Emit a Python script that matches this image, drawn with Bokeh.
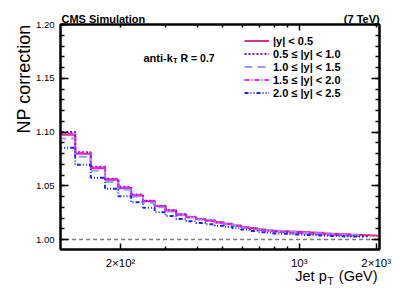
from bokeh.plotting import figure
from bokeh.models import (Label, Legend, LegendItem, LinearAxis, LogAxis, FixedTicker,
                          SingleIntervalTicker, PrintfTickFormatter, Range1d,
                          CustomJSTickFormatter, Title)
from bokeh.embed import file_html
from bokeh.resources import INLINE

# ---------------- data ----------------
pt_edges = [114, 133, 153, 174, 196, 220, 245, 272, 300, 330, 362, 395, 430, 468, 507,
            548, 592, 638, 686, 737, 790, 846, 905, 967, 1032, 1101, 1172, 1248, 1327,
            1410, 1497, 1588, 1684, 1784, 1890, 2000, 2116]

np_y00_05 = [1.0975, 1.0797, 1.0664, 1.0555, 1.0478, 1.0410, 1.0355, 1.0311, 1.0270, 1.0233,
             1.0210, 1.0191, 1.0176, 1.0160, 1.0146, 1.0131, 1.0116, 1.0106, 1.0094, 1.0086,
             1.0081, 1.0078, 1.0075, 1.0073, 1.0070, 1.0066, 1.0062, 1.0057, 1.0054, 1.0051,
             1.0048, 1.0044, 1.0041, 1.0039, 1.0037, 1.0036]
np_y05_10 = [1.1000, 1.0813, 1.0677, 1.0565, 1.0490, 1.0418, 1.0360, 1.0315, 1.0272, 1.0235,
             1.0212, 1.0192, 1.0176, 1.0159, 1.0144, 1.0129, 1.0113, 1.0102, 1.0090, 1.0081,
             1.0075, 1.0070, 1.0066, 1.0062, 1.0058, 1.0054, 1.0050, 1.0047, 1.0044, 1.0041,
             1.0038, 1.0035, 1.0032, 1.0030]
np_y10_15 = [1.0940, 1.0770, 1.0640, 1.0535, 1.0462, 1.0397, 1.0343, 1.0300, 1.0260, 1.0226,
             1.0204, 1.0186, 1.0171, 1.0156, 1.0142, 1.0128, 1.0114, 1.0104, 1.0093, 1.0085,
             1.0079, 1.0074, 1.0070, 1.0066, 1.0062, 1.0058, 1.0055, 1.0052, 1.0049, 1.0046,
             1.0043, 1.0041, 1.0039]
np_y15_20 = [1.0985, 1.0808, 1.0672, 1.0560, 1.0484, 1.0413, 1.0356, 1.0311, 1.0268, 1.0231,
             1.0208, 1.0188, 1.0172, 1.0156, 1.0141, 1.0126, 1.0111, 1.0100, 1.0088, 1.0079,
             1.0073, 1.0068, 1.0064, 1.0060, 1.0056, 1.0052, 1.0049, 1.0046, 1.0043, 1.0040,
             1.0037, 1.0034]
np_y20_25 = [1.0855, 1.0695, 1.0575, 1.0472, 1.0402, 1.0347, 1.0295, 1.0254, 1.0218, 1.0190,
             1.0170, 1.0154, 1.0141, 1.0128, 1.0117, 1.0104, 1.0092, 1.0080, 1.0068, 1.0062,
             1.0057, 1.0053, 1.0049, 1.0046, 1.0043, 1.0040, 1.0037, 1.0035, 1.0033, 1.0031,
             1.0029, 1.0027, 1.0026]

legend_labels = ["|y| < 0.5", "0.5 \u2264 |y| < 1.0", "1.0 \u2264 |y| < 1.5",
                 "1.5 \u2264 |y| < 2.0", "2.0 \u2264 |y| < 2.5"]
x_ticks = [200, 1000, 2000]
x_tick_labels = ["2\u00d710\u00b2", "10\u00b3", "2\u00d710\u00b3"]
x_minor = [300, 400, 500, 600, 700, 800, 900]
ref_x = [114, 2000]
ref_y = [1.0, 1.0]

FONT = "Liberation Sans"
NB = "\u00a0"

# ---------------- figure ----------------
p = figure(width=399, height=294, x_axis_type="log",
           x_range=Range1d(116.5, 2060), y_range=Range1d(0.9907, 1.2001),
           output_backend="svg", toolbar_location=None,
           min_border_left=60, min_border_right=20, min_border_top=24, min_border_bottom=45)
p.grid.visible = False
p.outline_line_color = "black"
p.outline_line_width = 2

# top title line
p.title.text = "CMS Simulation" + NB * 65 + "(7 TeV)"
p.title.align = "left"
p.title.offset = 1
p.title.standoff = 0
p.title.text_font = FONT
p.title.text_font_size = "11px"
p.title.text_font_style = "bold"
p.title.text_color = "black"

# reference line
p.line(ref_x, ref_y, line_color="#7a7a7a", line_width=1.5, line_dash="4 3")

styles = [
    (np_y00_05, "#d4318c", "solid"),
    (np_y05_10, "#7a10e0", "2 2"),
    (np_y10_15, "#9a9cff", "8 5"),
    (np_y15_20, "#e028ef", "5 2 1 2"),
    (np_y20_25, "#1426ff", "4 2 1 2 1 2"),
]
items = []
for lab_text, (vals, col, dash) in zip(legend_labels, styles):
    n = len(vals)
    xs = pt_edges[:n + 1]
    ys = list(vals) + [vals[-1]]
    r = p.step(xs, ys, mode="after", line_color=col, line_width=2, line_dash=dash)
    items.append(LegendItem(label=lab_text, renderers=[r]))

# axes
xa = p.xaxis[0]
xa.ticker = FixedTicker(ticks=x_ticks, minor_ticks=x_minor)
xa.major_label_overrides = {t: s for t, s in zip(x_ticks, x_tick_labels)}
ya = p.yaxis[0]
ya.ticker = SingleIntervalTicker(interval=0.05, num_minor_ticks=5)
ya.formatter = PrintfTickFormatter(format="%.2f")

blank = CustomJSTickFormatter(code="return ''")
top = LogAxis(ticker=FixedTicker(ticks=[1000], minor_ticks=[200] + x_minor + [2000]),
              formatter=blank)
right = LinearAxis(ticker=SingleIntervalTicker(interval=0.05, num_minor_ticks=5),
                   formatter=blank)
p.add_layout(top, "above")
p.add_layout(right, "right")

for ax in (xa, top):
    ax.major_tick_in = 6
    ax.major_tick_out = 0
    ax.minor_tick_in = 3
    ax.minor_tick_out = 0
for ax in (ya, right):
    ax.major_tick_in = 8
    ax.major_tick_out = 0
    ax.minor_tick_in = 4
    ax.minor_tick_out = 0
for ax in (xa, ya, top, right):
    ax.axis_line_width = 2
    ax.axis_line_color = "black"
    ax.major_tick_line_width = 1.5
    ax.minor_tick_line_width = 1.5
    ax.major_label_text_font = FONT
    ax.major_label_text_color = "black"
xa.major_label_text_font_size = "11.5px"
xa.major_label_standoff = 7
ya.major_label_text_font_size = "9.5px"
ya.major_label_standoff = 6
for ax in (top, right):
    ax.major_label_standoff = 0

# axis titles outside the frame
ytitle = Title(text="NP correction", align="right", text_font=FONT, text_font_size="18px",
               text_font_style="normal", text_color="black", standoff=0)
p.add_layout(ytitle, "left")
xtitle = Title(text="Jet p" + NB * 3 + "(GeV)", align="right", text_font=FONT,
               text_font_size="14.5px", text_font_style="normal", text_color="black",
               standoff=-12, offset=2)
p.add_layout(xtitle, "below")
xsub = Title(text="T", align="right", text_font=FONT, text_font_size="10px",
             text_font_style="normal", text_color="black", standoff=-8, offset=46)
p.add_layout(xsub, "below")

# legend
leg = Legend(items=items, location=(184, 150.3), orientation="vertical",
             label_text_font=FONT, label_text_font_size="11px", label_text_font_style="bold",
             label_text_color="black", glyph_width=25, glyph_height=11, label_height=11,
             label_standoff=4, spacing=1, padding=0, margin=0,
             background_fill_alpha=0, border_line_color=None)
p.add_layout(leg, "center")


def lab(text, x, y, size, style="bold", align="left"):
    p.add_layout(Label(x=x, y=y, x_units="screen", y_units="screen", text=text,
                       text_font=FONT, text_font_size=size, text_font_style=style,
                       text_align=align, text_baseline="alphabetic", text_color="black"))


lab("anti-k", 83, 191.7, "11px")
lab("T", 112.5, 189, "7.5px")
lab("R = 0.7", 120, 191.7, "10.5px")

open("out.html", "w").write(file_html(p, INLINE))
